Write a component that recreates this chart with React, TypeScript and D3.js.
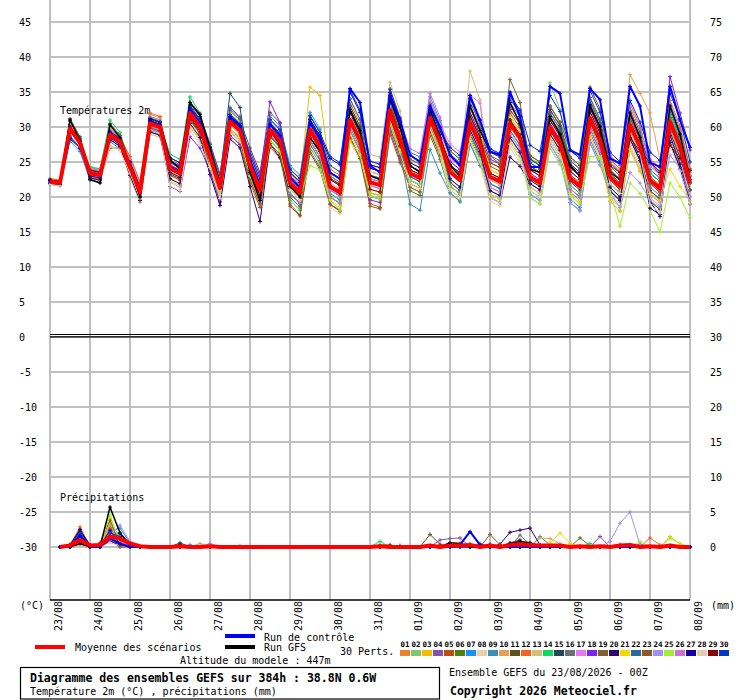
import React from 'react'
import * as d3 from 'd3'

// 6-hourly steps, 23/08 00Z -> 08/09 00Z
const days = ['23/08', '24/08', '25/08', '26/08', '27/08', '28/08', '29/08', '30/08', '31/08',
  '01/09', '02/09', '03/09', '04/09', '05/09', '06/09', '07/09', '08/09']

const memberColors = ['#e8822e', '#80c870', '#f0c000', '#8850a8', '#b85010', '#508010', '#1890f8', '#e8d0a8',
  '#3890b8', '#e8a050', '#605020', '#f86020', '#d0c078', '#10d860', '#204858', '#687078', '#e878f0', '#8020f0',
  '#806030', '#300070', '#f0d800', '#2868a0', '#905828', '#a090f0', '#a0f030', '#d070d0', '#1800a0', '#e0d0b0',
  '#880000', '#0038c0']

// temperature 2m (°C)
const mean = [22.2, 22.0, 29.8, 27.7, 23.4, 23.1, 28.9, 27.9, 24.3, 20.7, 30.5, 30.0, 24.1, 23.4, 32.0, 30.0,
  25.7, 21.3, 30.8, 29.5, 24.5, 21.0, 29.6, 28.1, 22.0, 20.6, 29.6, 27.2, 21.5, 20.6, 31.0, 28.1, 22.1, 21.7, 32.4, 28.3,
  23.4, 22.7, 31.3, 27.9, 23.6, 22.4, 30.6, 27.5, 22.9, 22.2, 30.5, 28.4, 22.9, 22.0, 30.0, 27.7, 22.7, 21.5, 31.2, 28.1,
  22.9, 21.5, 30.3, 27.2, 22.4, 21.2, 30.8, 27.2, 22.0]
const control = [22.3, 22.0, 29.9, 27.8, 23.5, 23.2, 29.2, 28.1, 24.5, 20.9, 30.8, 30.3, 24.4, 23.7, 32.6, 30.5,
  26.2, 21.8, 31.5, 30.2, 25.2, 21.6, 30.4, 28.8, 22.8, 21.3, 30.7, 28.3, 23.5, 22.6, 35.5, 33.5, 24.5, 23.5, 34.5, 31.0,
  26.0, 25.0, 33.0, 30.0, 26.0, 24.5, 34.5, 31.0, 26.5, 26.0, 35.0, 31.5, 24.3, 24.3, 35.8, 34.8, 26.7, 26.0, 35.5, 33.9,
  25.5, 24.8, 35.8, 33.0, 24.9, 24.3, 35.8, 31.0, 27.1]
const gfs = [22.4, 22.1, 31.0, 28.0, 22.5, 22.0, 30.3, 28.5, 24.5, 20.0, 31.0, 30.0, 25.3, 24.0, 33.5, 31.8,
  27.0, 22.0, 31.0, 30.0, 23.5, 19.5, 29.5, 27.5, 21.5, 20.0, 28.5, 26.5, 21.5, 20.5, 32.5, 29.5, 23.0, 22.5, 34.0, 30.0,
  24.5, 23.5, 32.5, 28.5, 24.5, 23.0, 33.0, 29.5, 26.5, 26.0, 33.5, 30.5, 24.0, 23.5, 31.5, 29.0, 24.5, 23.0, 33.0, 30.0,
  23.5, 22.5, 32.0, 28.5, 22.5, 21.5, 33.0, 29.0, 22.5]

const p01 = [22.5, 22.3, 30.1, 28.0, 23.9, 23.6, 29.4, 28.4, 23.8, 20.2, 30.0, 29.5, 23.1, 22.4, 31.0, 29.0,
  24.5, 20.1, 29.6, 28.3, 25.0, 21.5, 30.1, 28.6, 23.2, 21.8, 30.8, 28.4, 23.5, 22.6, 33.0, 30.1, 23.6, 23.2, 33.9, 29.8,
  23.9, 23.2, 31.8, 28.4, 22.6, 21.4, 29.6, 26.5, 20.9, 20.2, 28.5, 26.4, 21.4, 20.5, 28.5, 26.2, 23.7, 22.5, 32.2, 29.1,
  25.9, 24.5, 33.3, 30.2, 24.4, 23.2, 32.8, 29.2, 23.5]
const p02 = [22.0, 21.8, 29.6, 27.5, 24.2, 23.9, 29.7, 28.7, 25.3, 21.7, 31.5, 31.0, 24.6, 23.9, 32.5, 30.5,
  25.2, 20.8, 30.3, 29.0, 23.0, 19.5, 28.1, 26.6, 21.0, 19.6, 28.6, 26.2, 22.0, 21.1, 31.5, 28.6, 23.1, 22.7, 33.4, 29.3,
  21.9, 21.2, 29.8, 26.4, 21.1, 19.9, 28.1, 25.0, 23.9, 23.2, 31.5, 29.4, 25.5, 24.8, 36.3, 32.5, 24.7, 23.5, 33.2, 30.1,
  21.9, 20.5, 29.3, 26.2, 19.9, 18.7, 28.3, 24.7, 20.0]
const p03 = [22.2, 22.0, 29.8, 27.7, 23.1, 22.8, 28.6, 27.6, 23.5, 19.9, 29.7, 29.2, 22.6, 21.9, 30.5, 28.5,
  24.7, 20.3, 29.8, 28.5, 25.5, 22.0, 30.6, 29.1, 24.0, 22.1, 35.7, 34.5, 23.5, 21.6, 32.0, 29.1, 21.1, 20.7, 31.4, 27.3,
  21.4, 20.7, 29.3, 25.9, 22.1, 20.9, 29.1, 26.0, 22.9, 22.2, 30.5, 28.4, 24.4, 23.5, 31.5, 29.2, 21.7, 20.5, 30.2, 27.1,
  20.9, 19.5, 28.3, 25.2, 19.4, 18.2, 27.8, 24.2, 19.0]
const p04 = [22.4, 22.2, 30.8, 28.4, 22.8, 22.5, 28.3, 27.3, 24.6, 21.0, 30.8, 30.3, 25.6, 24.9, 33.5, 31.5,
  27.7, 23.3, 32.8, 31.5, 25.5, 22.0, 30.6, 29.1, 20.5, 19.1, 28.1, 25.7, 19.0, 18.1, 28.5, 25.6, 20.1, 19.7, 30.4, 26.3,
  24.4, 23.7, 32.3, 28.9, 26.1, 24.9, 33.1, 30.0, 25.9, 25.2, 33.5, 31.4, 23.9, 23.0, 31.0, 28.7, 20.7, 19.5, 29.2, 26.1,
  19.4, 18.0, 26.8, 23.7, 21.4, 20.2, 29.8, 26.2, 22.0]
const p05 = [21.9, 21.7, 29.5, 27.4, 22.9, 22.6, 27.0, 27.0, 23.1, 19.5, 29.3, 28.8, 23.1, 22.4, 31.0, 29.0,
  23.7, 19.3, 28.8, 27.5, 22.0, 18.5, 27.1, 25.6, 19.0, 17.4, 26.6, 24.2, 19.0, 18.0, 28.5, 25.6, 19.1, 18.5, 29.4, 25.3,
  21.9, 21.2, 29.8, 26.4, 23.6, 22.4, 30.6, 27.5, 24.4, 23.7, 32.0, 29.9, 24.9, 24.0, 32.0, 29.7, 23.2, 22.0, 31.7, 28.6,
  21.9, 20.5, 29.3, 26.2, 23.4, 22.2, 31.8, 28.2, 23.0]
const p06 = [22.3, 22.1, 29.9, 27.8, 23.7, 23.4, 29.2, 28.2, 25.1, 21.5, 31.3, 30.8, 23.6, 22.9, 31.5, 29.5,
  26.7, 22.3, 31.8, 30.5, 23.5, 20.0, 28.6, 27.1, 22.5, 21.1, 30.1, 27.7, 23.0, 22.1, 32.5, 29.6, 21.6, 21.2, 31.9, 27.8,
  20.9, 20.2, 28.8, 25.4, 20.6, 19.4, 27.6, 24.5, 21.9, 21.2, 29.5, 27.4, 25.4, 24.5, 32.5, 30.2, 25.7, 24.5, 34.2, 31.1,
  23.9, 22.5, 31.3, 28.2, 20.9, 19.7, 29.3, 25.7, 21.0]
const p07 = [21.8, 21.6, 28.0, 26.5, 22.4, 22.1, 27.9, 26.9, 23.7, 20.1, 29.9, 29.4, 24.9, 24.2, 32.8, 30.8,
  26.2, 21.8, 31.3, 30.0, 26.5, 23.0, 31.6, 30.1, 24.5, 23.1, 32.1, 29.7, 22.5, 21.6, 32.0, 29.1, 24.1, 23.7, 34.4, 30.3,
  26.4, 25.7, 34.3, 30.9, 25.1, 23.9, 32.1, 29.0, 21.9, 21.2, 29.5, 27.4, 20.4, 19.5, 27.5, 25.2, 19.7, 18.5, 28.2, 25.1,
  22.9, 21.5, 30.3, 27.2, 24.9, 23.7, 33.3, 29.7, 24.0]
const p08 = [22.7, 22.5, 30.3, 28.2, 24.4, 24.1, 29.9, 28.9, 24.8, 21.2, 31.0, 30.5, 22.3, 21.6, 30.2, 28.2,
  23.7, 19.3, 28.8, 27.5, 23.5, 20.0, 28.6, 27.1, 20.0, 18.6, 27.6, 25.2, 18.5, 17.6, 28.0, 25.1, 21.1, 20.7, 31.4, 27.3,
  21.4, 20.7, 29.3, 25.9, 20.6, 19.4, 27.6, 24.5, 19.4, 18.7, 27.0, 24.9, 20.9, 20.0, 28.0, 25.7, 21.7, 20.5, 30.2, 27.1,
  20.4, 19.0, 27.8, 24.7, 20.4, 19.2, 28.8, 25.2, 20.0]
const p09 = [22.2, 22.0, 28.8, 27.0, 23.0, 22.7, 28.5, 27.5, 23.3, 19.7, 29.5, 29.0, 23.6, 22.9, 31.5, 29.5,
  26.2, 21.8, 31.3, 30.0, 25.5, 22.0, 30.6, 29.1, 22.5, 21.1, 30.1, 27.7, 20.5, 19.6, 30.0, 27.1, 20.1, 19.7, 30.4, 26.3,
  19.0, 18.1, 26.8, 23.4, 20.6, 19.3, 27.6, 24.5, 21.9, 21.2, 29.5, 27.4, 23.9, 23.0, 31.0, 28.7, 19.2, 18.1, 27.7, 24.6,
  21.4, 20.0, 28.8, 25.7, 23.4, 22.2, 31.8, 28.2, 22.0]
const p10 = [22.0, 21.8, 29.6, 27.5, 23.8, 23.5, 29.3, 28.3, 25.6, 22.0, 31.8, 31.3, 25.1, 24.4, 33.0, 31.0,
  25.2, 20.8, 30.3, 29.0, 24.5, 21.0, 29.6, 28.1, 23.0, 21.6, 30.6, 28.2, 21.0, 20.1, 30.5, 27.6, 22.6, 22.2, 32.9, 28.8,
  25.4, 24.7, 33.3, 29.9, 24.6, 23.4, 31.6, 28.5, 22.4, 21.7, 30.0, 27.9, 21.9, 21.0, 29.0, 26.7, 24.7, 23.5, 33.2, 30.1,
  25.4, 23.5, 37.5, 34.8, 32.0, 25.3, 29.8, 26.2, 22.0]
const p11 = [22.1, 21.9, 31.2, 28.6, 23.6, 23.3, 29.1, 28.1, 24.1, 20.5, 30.3, 29.8, 25.1, 24.4, 33.0, 31.0,
  27.2, 22.8, 32.3, 31.0, 27.0, 23.5, 32.1, 30.6, 23.0, 21.6, 30.6, 28.2, 21.5, 20.6, 31.0, 28.1, 20.6, 20.2, 30.9, 26.8,
  22.4, 21.7, 30.3, 26.9, 24.1, 22.9, 31.1, 28.0, 24.9, 24.2, 32.5, 30.4, 25.9, 25.0, 33.0, 30.7, 24.2, 23.0, 32.7, 29.6,
  22.4, 21.0, 29.8, 26.7, 19.4, 18.2, 27.8, 24.2, 19.0]
const p12 = [22.6, 22.4, 30.2, 28.1, 24.0, 23.7, 29.5, 28.5, 25.8, 22.2, 32.0, 31.5, 24.4, 23.7, 32.3, 30.3,
  24.7, 20.3, 29.8, 28.5, 22.5, 19.0, 27.6, 26.1, 21.5, 20.1, 29.1, 26.7, 24.0, 23.1, 33.5, 30.6, 25.1, 24.7, 35.4, 31.3,
  24.9, 24.2, 32.8, 29.4, 22.1, 20.9, 29.1, 26.0, 20.4, 19.7, 28.0, 25.9, 21.9, 21.0, 29.0, 26.7, 23.2, 22.0, 31.7, 28.6,
  25.4, 24.0, 32.8, 29.7, 25.4, 24.2, 33.8, 30.2, 24.0]
const p13 = [22.4, 22.2, 30.0, 27.9, 22.6, 22.3, 27.3, 26.8, 22.8, 19.2, 29.0, 28.5, 22.1, 21.4, 30.0, 28.0,
  24.7, 20.3, 29.8, 28.5, 25.0, 21.5, 30.1, 28.6, 24.0, 22.6, 31.6, 29.2, 24.5, 23.6, 34.0, 31.1, 26.1, 25.7, 36.4, 32.3,
  25.4, 24.7, 33.3, 29.9, 26.1, 24.4, 38.0, 33.9, 23.9, 23.2, 31.5, 29.4, 21.4, 20.5, 28.5, 26.2, 20.2, 19.0, 28.7, 25.6,
  19.9, 18.5, 27.3, 24.2, 20.9, 19.7, 29.3, 25.7, 21.0]
const p14 = [21.9, 21.7, 29.5, 27.4, 24.3, 24.0, 31.0, 29.2, 24.8, 21.2, 31.0, 30.5, 26.1, 25.4, 34.3, 32.0,
  26.7, 22.3, 31.8, 30.5, 23.0, 19.5, 28.1, 26.6, 19.5, 18.1, 27.1, 24.7, 20.5, 19.6, 30.0, 27.1, 23.1, 22.7, 33.4, 29.3,
  25.9, 25.2, 33.8, 30.4, 26.6, 25.4, 33.6, 30.5, 23.4, 22.7, 31.0, 28.9, 20.9, 20.0, 28.0, 25.7, 21.7, 20.5, 30.2, 27.1,
  24.4, 23.0, 31.8, 28.7, 23.4, 22.2, 31.8, 28.2, 23.0]
const p15 = [22.3, 22.1, 31.0, 28.3, 23.2, 22.9, 28.7, 27.7, 24.9, 21.3, 31.1, 30.6, 23.3, 22.6, 31.2, 29.2,
  27.0, 22.8, 34.8, 32.8, 23.5, 20.0, 28.6, 27.1, 23.5, 22.1, 31.1, 28.7, 23.5, 22.6, 33.0, 30.1, 22.1, 21.7, 32.4, 28.3,
  22.4, 21.7, 30.3, 26.9, 24.6, 23.4, 31.6, 28.5, 26.4, 25.7, 34.0, 31.9, 25.4, 24.5, 32.5, 30.2, 22.2, 21.0, 30.7, 27.6,
  20.9, 19.5, 28.3, 25.2, 20.9, 19.7, 29.3, 25.7, 21.0]
const p16 = [22.0, 21.8, 29.6, 27.5, 23.7, 23.4, 29.2, 28.2, 24.0, 20.4, 30.2, 29.7, 23.8, 23.1, 31.7, 29.7,
  26.2, 21.8, 31.3, 30.0, 26.0, 22.5, 31.1, 29.6, 21.5, 20.1, 29.1, 26.7, 20.0, 19.1, 29.5, 26.6, 23.6, 23.2, 33.9, 29.8,
  23.9, 23.2, 31.8, 28.4, 21.6, 20.4, 28.6, 25.5, 21.4, 20.7, 29.0, 26.9, 24.4, 23.5, 31.5, 29.2, 25.2, 24.0, 33.7, 30.6,
  23.4, 22.0, 30.8, 27.7, 21.9, 20.7, 30.3, 26.7, 22.0]
const p17 = [22.3, 22.1, 29.9, 27.8, 22.9, 22.6, 28.4, 27.4, 24.5, 20.9, 30.7, 30.2, 24.6, 23.9, 32.5, 30.5,
  25.2, 20.8, 30.3, 29.0, 24.0, 20.5, 29.1, 27.6, 23.0, 21.6, 30.6, 28.2, 22.0, 21.1, 31.5, 28.6, 21.6, 21.2, 31.9, 27.8,
  25.9, 25.2, 33.8, 30.4, 27.6, 26.4, 34.6, 33.4, 21.4, 20.7, 29.0, 26.9, 19.9, 19.0, 27.0, 24.7, 24.2, 23.0, 32.7, 29.6,
  24.9, 23.5, 32.3, 29.2, 20.4, 19.2, 28.8, 25.2, 20.0]
const p18 = [22.1, 21.9, 29.7, 27.6, 23.1, 22.8, 28.6, 27.6, 23.5, 19.9, 29.7, 29.2, 21.5, 20.8, 28.6, 27.0,
  23.7, 19.3, 28.8, 27.5, 26.5, 23.0, 33.6, 30.6, 23.0, 21.6, 30.6, 28.2, 21.0, 20.1, 30.5, 27.6, 19.6, 19.2, 29.9, 25.8,
  22.9, 22.2, 30.8, 27.4, 25.1, 23.9, 32.1, 29.0, 25.4, 24.7, 33.0, 30.9, 23.4, 22.5, 30.5, 28.2, 21.2, 20.0, 29.7, 26.6,
  23.9, 22.5, 31.3, 28.2, 24.9, 23.2, 37.2, 32.0, 26.7]
const p19 = [22.4, 22.2, 30.0, 27.9, 23.6, 23.3, 30.5, 28.8, 25.1, 21.5, 31.3, 30.8, 25.3, 24.6, 33.2, 31.2,
  25.7, 21.3, 30.8, 29.5, 23.5, 20.0, 28.6, 27.1, 20.0, 18.6, 27.6, 25.2, 20.0, 19.1, 29.5, 26.6, 22.6, 22.2, 32.9, 28.8,
  25.4, 24.7, 33.3, 29.9, 26.6, 25.4, 33.6, 30.5, 25.9, 24.7, 36.8, 33.5, 24.4, 23.5, 31.5, 29.2, 25.7, 24.5, 34.2, 31.1,
  24.4, 23.0, 31.8, 28.7, 21.9, 20.7, 30.3, 26.7, 21.0]
const p20 = [21.9, 21.7, 28.5, 27.0, 22.7, 22.4, 28.2, 27.2, 23.1, 19.5, 29.3, 28.8, 22.6, 21.9, 30.5, 28.5,
  23.2, 18.8, 28.3, 27.0, 21.5, 16.5, 27.6, 25.6, 20.5, 19.1, 28.1, 25.7, 22.5, 21.6, 32.0, 29.1, 24.1, 23.7, 34.4, 30.3,
  23.4, 22.7, 31.3, 27.9, 21.6, 20.4, 28.6, 25.5, 19.9, 19.2, 25.7, 24.4, 21.9, 21.0, 29.0, 26.7, 23.7, 22.5, 32.2, 29.1,
  20.9, 19.5, 28.3, 25.2, 19.4, 17.2, 28.8, 24.7, 19.5]
const p21 = [22.5, 22.3, 30.1, 28.0, 23.5, 23.2, 29.0, 28.0, 24.6, 21.0, 30.8, 30.3, 23.6, 22.9, 31.5, 29.5,
  26.9, 22.5, 32.0, 30.7, 25.0, 21.5, 30.1, 28.6, 21.0, 19.6, 28.6, 26.2, 19.5, 18.6, 29.0, 26.1, 20.6, 20.2, 30.9, 26.8,
  24.4, 23.7, 32.3, 28.9, 25.6, 24.4, 32.6, 29.5, 23.9, 23.2, 31.5, 29.4, 22.4, 21.5, 29.5, 27.2, 20.2, 19.0, 28.7, 25.6,
  19.4, 18.0, 26.8, 23.7, 20.5, 19.5, 24.0, 21.5, 19.5]
const p22 = [22.1, 21.9, 28.6, 27.0, 23.9, 23.6, 29.4, 28.4, 24.5, 20.9, 30.7, 30.2, 24.9, 24.2, 32.8, 30.8,
  27.5, 23.1, 32.6, 31.3, 25.5, 22.0, 30.6, 29.1, 24.0, 22.6, 31.6, 29.2, 24.5, 23.6, 34.0, 31.1, 23.1, 22.7, 33.4, 29.3,
  22.9, 22.2, 30.8, 27.4, 22.1, 20.9, 29.1, 26.0, 23.4, 22.7, 31.0, 28.9, 24.9, 24.0, 32.0, 29.7, 25.2, 24.0, 33.7, 30.6,
  24.9, 23.5, 32.3, 29.2, 23.9, 22.7, 32.3, 28.7, 23.0]
const p23 = [22.5, 22.3, 30.1, 28.0, 23.2, 22.9, 28.7, 27.7, 23.7, 20.1, 29.9, 29.4, 23.9, 23.2, 31.8, 29.8,
  24.2, 19.8, 29.3, 28.0, 22.5, 19.0, 27.6, 26.1, 18.7, 17.3, 26.3, 23.9, 18.9, 18.0, 28.4, 25.5, 18.7, 18.3, 29.0, 24.9,
  21.4, 20.7, 29.3, 25.9, 24.6, 23.4, 31.6, 28.5, 24.9, 24.2, 32.5, 30.4, 25.9, 25.0, 33.0, 30.7, 26.7, 25.5, 35.7, 32.6,
  23.9, 22.5, 31.3, 28.2, 22.9, 21.7, 31.3, 27.7, 22.0]
const p24 = [22.2, 22.0, 29.8, 27.7, 23.7, 23.4, 29.2, 28.2, 25.3, 21.7, 31.5, 31.0, 23.6, 22.9, 31.5, 29.5,
  26.2, 21.8, 31.3, 30.0, 24.0, 20.5, 29.1, 27.6, 20.5, 19.1, 28.1, 25.7, 21.0, 20.1, 30.5, 27.6, 22.6, 22.2, 32.9, 28.8,
  24.9, 24.2, 32.8, 29.4, 23.6, 22.4, 30.6, 27.5, 20.9, 20.2, 28.5, 26.4, 20.4, 19.5, 27.5, 25.2, 19.2, 18.0, 27.7, 24.6,
  20.5, 18.5, 23.5, 22.0, 19.5, 18.5, 26.0, 24.0, 20.0]
const p25 = [22.0, 21.8, 29.6, 27.5, 23.1, 22.8, 28.6, 27.6, 24.7, 21.1, 30.9, 30.4, 24.3, 23.6, 32.2, 30.2,
  24.7, 20.3, 29.8, 28.5, 23.0, 19.5, 28.1, 26.6, 21.0, 20.0, 24.5, 23.9, 19.6, 18.1, 28.0, 26.0, 20.1, 19.7, 30.4, 26.3,
  22.4, 21.7, 30.3, 26.9, 21.6, 20.4, 28.6, 25.5, 20.4, 19.7, 28.0, 25.9, 19.9, 19.0, 27.0, 24.7, 20.5, 19.5, 25.8, 25.8,
  21.0, 15.8, 22.0, 20.5, 18.1, 15.0, 22.0, 20.0, 17.0]
const p26 = [22.3, 22.1, 29.9, 27.8, 24.1, 23.8, 29.6, 28.6, 23.9, 20.3, 30.1, 29.6, 24.6, 23.9, 32.5, 30.5,
  26.5, 22.1, 31.6, 30.3, 26.0, 22.5, 31.1, 29.6, 22.5, 21.1, 30.1, 27.7, 20.0, 19.1, 29.5, 26.6, 24.6, 24.2, 34.9, 30.8,
  26.9, 26.2, 34.8, 31.4, 25.6, 24.4, 32.6, 29.5, 26.9, 26.2, 34.5, 32.4, 23.9, 23.0, 31.0, 28.7, 21.2, 20.0, 29.7, 26.6,
  25.9, 24.5, 33.3, 30.2, 24.4, 23.2, 32.8, 29.2, 23.0]
const p27 = [22.0, 21.8, 28.3, 27.0, 23.0, 22.7, 28.5, 27.5, 25.0, 21.4, 31.2, 30.7, 25.6, 24.9, 33.5, 31.5,
  26.2, 21.8, 31.3, 30.0, 25.0, 21.5, 30.1, 28.6, 23.5, 22.1, 31.1, 28.7, 25.5, 24.6, 35.0, 32.1, 24.6, 24.2, 34.9, 30.8,
  24.4, 23.7, 32.3, 28.9, 22.6, 21.4, 29.6, 26.5, 20.9, 20.2, 28.5, 26.4, 22.4, 21.5, 29.5, 27.2, 24.7, 23.5, 33.2, 30.1,
  21.4, 20.0, 28.8, 25.7, 18.4, 17.5, 27.8, 24.0, 19.0]
const p28 = [21.8, 21.6, 29.4, 27.3, 22.5, 22.2, 27.2, 26.6, 23.4, 19.8, 29.6, 29.1, 21.6, 20.9, 29.5, 27.5,
  24.2, 19.8, 29.3, 28.0, 24.7, 21.2, 29.8, 28.3, 21.0, 19.6, 28.6, 26.2, 22.0, 21.1, 31.5, 28.6, 23.6, 23.2, 33.9, 29.8,
  21.9, 21.2, 29.8, 26.4, 21.1, 19.9, 28.1, 25.0, 19.9, 19.2, 27.5, 25.4, 20.9, 20.0, 28.0, 25.7, 22.7, 21.5, 31.2, 28.1,
  21.9, 20.5, 29.3, 26.2, 18.9, 17.7, 27.3, 23.7, 19.0]
const p29 = [22.4, 22.2, 30.0, 27.9, 23.8, 23.5, 29.3, 28.3, 24.4, 20.8, 30.6, 30.1, 23.5, 22.8, 31.4, 29.4,
  26.0, 21.6, 31.1, 29.8, 23.7, 20.2, 28.8, 27.3, 22.8, 21.4, 30.4, 28.0, 22.7, 21.8, 32.2, 29.3, 21.1, 20.7, 31.4, 27.3,
  23.9, 23.2, 31.8, 28.4, 24.6, 23.4, 31.6, 28.5, 23.4, 22.7, 31.0, 28.9, 23.9, 23.0, 31.0, 28.7, 24.2, 23.0, 32.7, 29.6,
  24.5, 23.5, 28.5, 26.5, 25.0, 23.5, 27.4, 25.5, 23.8]
const p30 = [22.3, 22.1, 29.9, 27.8, 23.3, 23.0, 28.8, 27.8, 24.7, 21.1, 30.9, 30.4, 25.1, 24.4, 33.0, 31.0,
  26.7, 22.3, 31.8, 30.5, 26.0, 22.5, 31.1, 29.6, 24.0, 22.6, 31.6, 29.2, 25.8, 24.9, 35.3, 32.4, 25.1, 24.7, 35.4, 31.3,
  24.9, 24.2, 32.8, 29.4, 27.1, 25.9, 34.1, 31.0, 26.9, 26.2, 34.5, 32.4, 27.4, 26.5, 34.5, 32.2, 26.7, 25.5, 35.2, 32.1,
  26.4, 25.0, 33.8, 30.7, 26.4, 25.2, 34.8, 31.2, 25.0]

const members = [p01, p02, p03, p04, p05, p06, p07, p08, p09, p10, p11, p12, p13, p14, p15,
  p16, p17, p18, p19, p20, p21, p22, p23, p24, p25, p26, p27, p28, p29, p30]

// precipitation (mm per 6h), [step, mm], other steps are 0
type Rr = [number, number][]
const rrMean: Rr = [[2, 0.2], [3, 1.0], [4, 0.2], [5, 0.3], [6, 1.5], [7, 1.2], [8, 0.5], [9, 0.1], [13, 0.1],
  [16, 0.1], [33, 0.1], [38, 0.2], [40, 0.2], [41, 0.2], [42, 0.3], [44, 0.2], [46, 0.3], [47, 0.4], [48, 0.3],
  [49, 0.2], [50, 0.2], [51, 0.2], [53, 0.1], [55, 0.1], [57, 0.2], [58, 0.3], [60, 0.1], [62, 0.2]]
const rrControl: Rr = [[3, 1.6], [6, 1.2], [7, 0.5], [41, 0.3], [42, 2.2], [43, 0.3]]
const rrGfs: Rr = [[3, 0.5], [6, 5.7], [7, 2.0], [8, 0.3], [13, 0.3], [40, 0.6], [41, 0.5], [46, 0.5], [47, 0.8], [48, 0.6]]
const rr01: Rr = [[2, 0.3], [3, 2.9], [4, 0.2], [6, 2.0], [7, 0.4], [19, 0.2]]
const rr02: Rr = [[3, 1.5], [5, 0.3], [6, 3.0], [7, 1.2], [8, 0.2], [41, 0.3]]
const rr03: Rr = [[3, 0.8], [6, 3.5], [7, 0.5], [52, 0.3], [62, 1.5], [63, 0.4]]
const rr04: Rr = [[2, 0.2], [3, 1.2], [6, 1.5], [7, 0.3], [39, 1.0], [40, 1.2], [41, 1.3], [55, 1.5]]
const rr05: Rr = [[3, 2.0], [4, 0.3], [6, 2.5], [7, 0.3], [33, 0.3], [34, 0.3]]
const rr06: Rr = [[3, 0.5], [6, 1.2], [7, 0.2], [53, 1.3], [54, 0.2]]
const rr07: Rr = [[3, 1.8], [5, 0.5], [6, 2.2], [7, 2.7], [8, 0.6], [14, 0.3], [45, 0.3]]
const rr08: Rr = [[3, 0.3], [6, 0.8], [7, 0.2]]
const rr09: Rr = [[3, 1.0], [6, 2.8], [7, 1.8], [8, 0.2], [44, 0.4], [49, 1.5], [50, 0.3]]
const rr10: Rr = [[3, 0.7], [6, 3.3], [7, 0.8], [15, 0.5], [49, 1.3], [50, 1.2], [51, 0.5]]
const rr11: Rr = [[3, 0.4], [6, 1.0], [38, 1.8], [39, 0.4]]
const rr12: Rr = [[2, 0.4], [3, 2.6], [6, 2.6], [7, 1.0], [60, 1.3], [61, 0.3]]
const rr13: Rr = [[3, 0.2], [6, 1.8], [7, 0.3], [50, 0.5]]
const rr14: Rr = [[3, 1.3], [5, 0.4], [6, 4.0], [7, 0.6], [33, 0.8], [54, 0.5]]
const rr15: Rr = [[3, 2.2], [6, 1.5], [7, 0.4], [13, 0.6], [46, 0.6], [47, 1.0]]
const rr16: Rr = [[3, 0.6], [6, 0.8], [7, 0.3], [8, 0.3], [47, 1.7], [48, 0.3]]
const rr17: Rr = [[3, 0.3], [6, 2.0], [7, 1.6], [8, 0.3], [16, 0.3], [57, 0.3]]
const rr18: Rr = [[3, 1.7], [6, 1.2], [7, 0.3], [59, 0.4]]
const rr19: Rr = [[3, 0.5], [6, 1.6], [7, 0.4], [43, 0.5]]
const rr20: Rr = [[3, 2.4], [4, 0.3], [6, 0.9], [7, 0.2], [45, 0.4], [46, 2.1], [47, 2.4], [48, 2.7], [49, 0.3]]
const rr21: Rr = [[3, 1.0], [6, 4.3], [7, 0.5], [50, 0.6], [51, 2.0], [52, 0.5]]
const rr22: Rr = [[3, 2.0], [6, 1.4], [7, 2.0], [8, 0.4], [40, 0.4]]
const rr23: Rr = [[3, 0.4], [5, 0.6], [6, 3.8], [7, 0.4], [44, 1.8], [45, 0.3]]
const rr24: Rr = [[3, 0.9], [6, 1.8], [7, 3.1], [8, 0.8], [56, 0.8], [57, 3.4], [58, 5.0], [59, 0.3]]
const rr25: Rr = [[3, 0.6], [6, 4.6], [7, 0.5], [59, 0.8], [62, 1.2], [63, 0.5]]
const rr26: Rr = [[3, 0.3], [6, 1.0], [7, 0.6], [16, 0.5], [57, 0.4]]
const rr27: Rr = [[2, 0.3], [3, 2.5], [6, 2.4], [7, 0.4], [42, 0.4]]
const rr28: Rr = [[3, 0.2], [6, 0.6], [7, 0.2], [51, 0.3]]
const rr29: Rr = [[3, 0.8], [6, 1.5], [7, 0.3], [34, 0.2], [35, 0.2], [44, 0.3]]
const rr30: Rr = [[3, 1.9], [6, 2.0], [7, 1.5], [8, 0.2], [48, 0.4]]

const memberRr = [rr01, rr02, rr03, rr04, rr05, rr06, rr07, rr08, rr09, rr10, rr11, rr12, rr13, rr14, rr15,
  rr16, rr17, rr18, rr19, rr20, rr21, rr22, rr23, rr24, rr25, rr26, rr27, rr28, rr29, rr30]

const tempTicks = d3.range(-30, 50, 5)
const mmTicks = d3.range(0, 80, 5)

const W = 740
const H = 700
const mono = '"DejaVu Sans Mono", monospace'

const x = d3.scaleLinear().domain([0, 64]).range([50, 690])
const yT = d3.scaleLinear().domain([-30, 45]).range([547, 22])
const yP = d3.scaleLinear().domain([0, 75]).range([547, 22])

// precipitation starts at the first 6h step
const fillRr = (rr: Rr) => d3.range(1, 65).map(i => {
  const hit = rr.find(d => d[0] === i)
  return [i, hit ? hit[1] : 0] as [number, number]
})

const tLine = d3.line<number>().x((_, i) => x(i)).y(d => yT(d))
const pLine = d3.line<[number, number]>().x(d => x(d[0])).y(d => yP(d[1]))

const crosses = (pts: [number, number][]) =>
  pts.map(([px, py]) => `M${px - 2},${py}h4M${px},${py - 2}v4`).join('')

function Series({ temp, rr, color, width, marks }: {
  temp: number[], rr: Rr, color: string, width: number, marks: boolean
}) {
  const rrFull = fillRr(rr)
  const tPts = temp.map((d, i) => [x(i), yT(d)] as [number, number])
  const pPts = rrFull.map(d => [x(d[0]), yP(d[1])] as [number, number])
  return (
    <g>
      <path d={tLine(temp) || ''} fill="none" stroke={color} strokeWidth={width} strokeLinejoin="round" />
      <path d={pLine(rrFull) || ''} fill="none" stroke={color} strokeWidth={width} strokeLinejoin="round" />
      {marks && <path d={crosses(tPts) + crosses(pPts)} fill="none" stroke={color} strokeWidth={1} />}
    </g>
  )
}

export default function App() {
  const t = { fontFamily: mono, fontSize: 10, fill: '#000' }
  return (
    <svg width={W} height={H} style={{ position: 'absolute', left: 0, top: 0, background: '#fff' }}>
      <rect width={W} height={H} fill="#fff" />
      {/* grid */}
      <g stroke="#c0c0c0" strokeWidth={1.5} shapeRendering="crispEdges">
        {tempTicks.map(v => <line key={'h' + v} x1={50} x2={690} y1={yT(v)} y2={yT(v)} />)}
        {days.map((d, i) => <line key={'v' + d} x1={x(i * 4)} x2={x(i * 4)} y1={0} y2={600} />)}
      </g>
      <line x1={50} x2={690} y1={yT(0) - 2.5} y2={yT(0) - 2.5} stroke="#000" strokeWidth={1.2} />
      <line x1={50} x2={690} y1={yT(0) - 0.2} y2={yT(0) - 0.2} stroke="#000" strokeWidth={1.2} />
      <line x1={50} x2={690} y1={600} y2={600} stroke="#000" strokeWidth={1.5} />

      {/* ticks */}
      {tempTicks.map(v => <text key={'l' + v} x={19} y={yT(v) + 4} {...t}>{v}</text>)}
      {mmTicks.map(v => <text key={'r' + v} x={710} y={yP(v) + 4} {...t}>{v}</text>)}
      <text x={20} y={609} {...t}>(°C)</text>
      <text x={711} y={609} {...t}>(mm)</text>
      {days.map((d, i) => (
        <text key={'d' + d} transform={`translate(${x(i * 4) + 12},601) rotate(-90)`} textAnchor="end" {...t}>{d}</text>
      ))}
      <text x={60} y={114} {...t}>Températures 2m</text>
      <text x={60} y={501} {...t}>Précipitations</text>

      {/* series */}
      {members.map((m, i) => (
        <Series key={'m' + i} temp={m} rr={memberRr[i]} color={memberColors[i]} width={1} marks />
      ))}
      <Series temp={gfs} rr={rrGfs} color="#000" width={1.5} marks />
      <Series temp={control} rr={rrControl} color="#0000ff" width={2} marks />
      <Series temp={mean} rr={rrMean} color="#ff0000" width={4} marks={false} />

      {/* legend */}
      <line x1={35} x2={65} y1={647} y2={647} stroke="#ff0000" strokeWidth={4} />
      <text x={75} y={651} {...t}>Moyenne des scénarios</text>
      <line x1={225} x2={255} y1={636} y2={636} stroke="#0000ff" strokeWidth={4} />
      <text x={264} y={641} {...t}>Run de contrôle</text>
      <line x1={225} x2={255} y1={647} y2={647} stroke="#000" strokeWidth={4} />
      <text x={264} y={651} {...t}>Run GFS</text>
      <text x={340} y={655} {...t}>30 Perts.</text>
      <text x={180} y={664} {...t}>Altitude du modele : 447m</text>
      {memberColors.map((c, i) => (
        <g key={'lg' + i}>
          <text x={400 + 11 * i + 5} y={647} textAnchor="middle" fontFamily={mono} fontSize={7.5}
            fontWeight="bold">{String(i + 1).padStart(2, '0')}</text>
          <rect x={400 + 11 * i} y={650} width={10} height={6} fill={c} />
        </g>
      ))}

      <rect x={20.5} y={667.5} width={419} height={31.5} fill="none" stroke="#000" strokeWidth={1.2} />
      <text x={30} y={682} fontFamily={mono} fontSize={11.5} fontWeight="bold">
        Diagramme des ensembles GEFS sur 384h : 38.8N 0.6W</text>
      <text x={30} y={695} {...t}>Température 2m (°C) , précipitations (mm)</text>
      <text x={449} y={676} {...t}>Ensemble GEFS du 23/08/2026 - 00Z</text>
      <text x={450} y={695} fontFamily={mono} fontSize={11.5} fontWeight="bold">Copyright 2026 Meteociel.fr</text>
    </svg>
  )
}
